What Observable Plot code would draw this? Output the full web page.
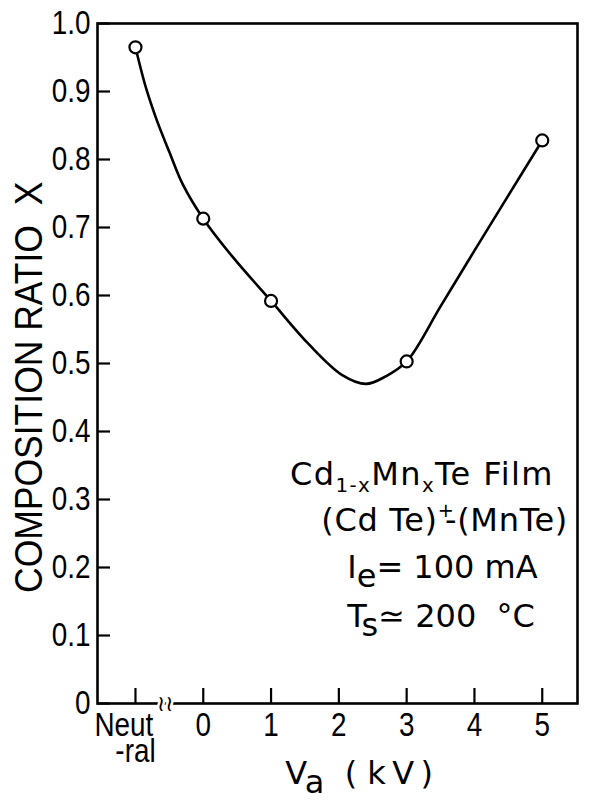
<!DOCTYPE html>
<html>
<head>
<meta charset="utf-8">
<script src="https://cdn.jsdelivr.net/npm/d3@7"></script>
<script src="https://cdn.jsdelivr.net/npm/@observablehq/plot@0.6"></script>
<style>
  html, body { margin: 0; padding: 0; background: #fff; }
</style>
</head>
<body>
<div id="chart"></div>
<script>
// ---- data ----
// measured points (Neutral beam plotted at the "Neut-ral" position, x = -1)
const pointLabels = ["Neutral", "0 kV", "1 kV", "3 kV", "5 kV"];
const pointX = [-1, 0, 1, 3, 5];
const pointY = [0.965, 0.713, 0.592, 0.503, 0.828];

// hand-drawn guide curve, sampled along the drawn line
const curveX = [-1.0, -0.85, -0.69, -0.50, -0.30, 0, 0.44, 1, 1.56, 2.05, 2.40, 2.69, 3, 3.5, 4.0, 5];
const curveY = [0.965, 0.907, 0.859, 0.811, 0.763, 0.713, 0.656, 0.592, 0.528, 0.483, 0.470, 0.481, 0.503, 0.584, 0.666, 0.828];

// axes
const xTickValues = [-1, 0, 1, 2, 3, 4, 5];
const xTickLabels = ["Neut\u00a0\u00a0\u00a0\n-ral", "0", "1", "2", "3", "4", "5"];
const yTickValues = [0, 0.1, 0.2, 0.3, 0.4, 0.5, 0.6, 0.7, 0.8, 0.9, 1.0];
const yTickLabels = ["0", "0.1", "0.2", "0.3", "0.4", "0.5", "0.6", "0.7", "0.8", "0.9", "1.0"];
const axisBreakX = [-0.56];

// texts (rich segments: plain / sub / low / sup / under)
const yTitle = "COMPOSITION RATIO\u00a0\u00a0X";
const xTitleParts = [["V", ""], ["a", "low"], ["\u00a0\u00a0(\u00a0k\u2009V\u2009)", ""]];
const noteLine1 = [["Cd", ""], ["1-x", "sub"], ["Mn", ""], ["x", "sub"], ["Te Film", ""]];
const noteLine2 = [["(Cd Te)", ""], ["+", "sup"], ["-", "under"], ["(MnTe)", ""]];
const noteLine3 = [["I", ""], ["e", "low"], ["=\u00a0100 mA", ""]];
const noteLine4 = [["T", ""], ["s", "low"], ["\u2243\u00a0200\u00a0\u00a0\u00b0C", ""]];

// ---- build ----
const points = pointX.map((x, i) => ({label: pointLabels[i], x, y: pointY[i]}));
const curve = curveX.map((x, i) => ({x, y: curveY[i]}));
const joined = parts => parts.map(p => p[0]).join("");

const tickFont = "'Liberation Sans', Arial, sans-serif";
const noteFont = "'DejaVu Sans', sans-serif";
const NOTE = 32;
const XT = 32;

const plot = Plot.plot({
  width: 591,
  height: 800,
  marginLeft: 97,
  marginRight: 14,
  marginTop: 23,
  marginBottom: 97,
  x: {domain: [-1.56, 5.52], axis: null},
  y: {domain: [0, 1], axis: null},
  style: {background: "white", color: "black", fontFamily: "'Liberation Sans', sans-serif"},
  marks: [
    // inward ticks on the left axis
    Plot.gridY(yTickValues, {stroke: "black", strokeOpacity: 1, strokeWidth: 2.2, insetRight: 480 - 13}),
    // inward ticks on the bottom axis
    Plot.gridX(xTickValues, {stroke: "black", strokeOpacity: 1, strokeWidth: 2.2, insetTop: 680 - 15}),
    Plot.frame({stroke: "black", strokeWidth: 2.6}),
    // axis break mark
    Plot.text(axisBreakX, {x: d => d, y: () => 0, text: () => "\u2240\u2240", fontSize: 22,
      fontFamily: "'DejaVu Sans', sans-serif", stroke: "white", strokeWidth: 5, fill: "black"}),
    Plot.axisY(yTickValues, {label: null, tickSize: 0, tickPadding: 7,
      tickFormat: d => yTickLabels[yTickValues.indexOf(d)],
      fontSize: 34, fontFamily: tickFont}),
    Plot.axisX(xTickValues, {label: null, tickSize: 0, tickPadding: 14,
      tickFormat: d => xTickLabels[xTickValues.indexOf(d)],
      fontSize: 34, lineHeight: 0.76, fontFamily: tickFont}),
    Plot.text([yTitle], {x: -2.566, y: 0.465, rotate: -90,
      fontSize: 39, fontFamily: "'Liberation Sans', sans-serif"}),
    Plot.text([joined(xTitleParts)], {x: 2.3, y: -0.103,
      fontSize: XT, fontFamily: noteFont}),
    // guide curve and measured points
    Plot.line(curve, {x: "x", y: "y", curve: "catmull-rom", stroke: "black", strokeWidth: 2.6}),
    Plot.dot(points, {x: "x", y: "y", r: 6, fill: "white", stroke: "black", strokeWidth: 2.2}),
    // annotations
    Plot.text([joined(noteLine1)], {x: 1.28, y: 0.337, textAnchor: "start", fontSize: NOTE, fontFamily: noteFont}),
    Plot.text([joined(noteLine2)], {x: 1.74, y: 0.2694, textAnchor: "start", fontSize: NOTE, fontFamily: noteFont}),
    Plot.text([joined(noteLine3)], {x: 2.124, y: 0.2003, textAnchor: "start", fontSize: NOTE, fontFamily: noteFont}),
    Plot.text([joined(noteLine4)], {x: 2.124, y: 0.1282, textAnchor: "start", fontSize: NOTE, fontFamily: noteFont})
  ]
});

// rich text (subscripts / superscripts) as tspans
const SVGNS = "http://www.w3.org/2000/svg";
function rich(el, parts, F) {
  el.textContent = "";
  let shift = 0;
  for (const [s, kind] of parts) {
    const t = document.createElementNS(SVGNS, "tspan");
    let target = 0, size = null, dx = 0;
    if (kind === "sub") { target = 0.22 * F; size = 0.62 * F; }
    else if (kind === "low") { target = 0.3 * F; }
    else if (kind === "sup") { target = -0.42 * F; size = 0.6 * F; }
    else if (kind === "under") { target = 0; dx = -0.3 * F; }
    if (target - shift !== 0) t.setAttribute("dy", target - shift);
    shift = target;
    if (size) t.setAttribute("font-size", size);
    if (dx) t.setAttribute("dx", dx);
    t.textContent = s;
    el.appendChild(t);
  }
}
const richMap = [
  [xTitleParts, XT, 0], [noteLine1, NOTE, 1.4], [noteLine2, NOTE, 0.7], [noteLine3, NOTE, 0], [noteLine4, NOTE, 0]
];
d3.select(plot).selectAll("text").each(function () {
  const txt = this.textContent;
  for (const [parts, F, spacing] of richMap) {
    if (txt === joined(parts)) {
      rich(this, parts, F);
      if (spacing) this.setAttribute("letter-spacing", spacing);
      break;
    }
  }
});

// narrow lettering (condensed drafting font)
function squeeze(el, k) {
  const tr = el.getAttribute("transform");
  if (tr) el.setAttribute("transform", tr + ` scale(${k},1)`);
  else {
    const x = +el.getAttribute("x") || 0;
    el.setAttribute("transform", `translate(${x},0) scale(${k},1) translate(${-x},0)`);
  }
}
d3.select(plot).selectAll('g[aria-label="y-axis tick label"] text, g[aria-label="x-axis tick label"] text')
  .each(function () { squeeze(this, 0.82); });
d3.select(plot).selectAll("text").filter(function () { return this.textContent === yTitle; })
  .each(function () { squeeze(this, 0.91); });

document.getElementById("chart").appendChild(plot);
</script>
</body>
</html>
